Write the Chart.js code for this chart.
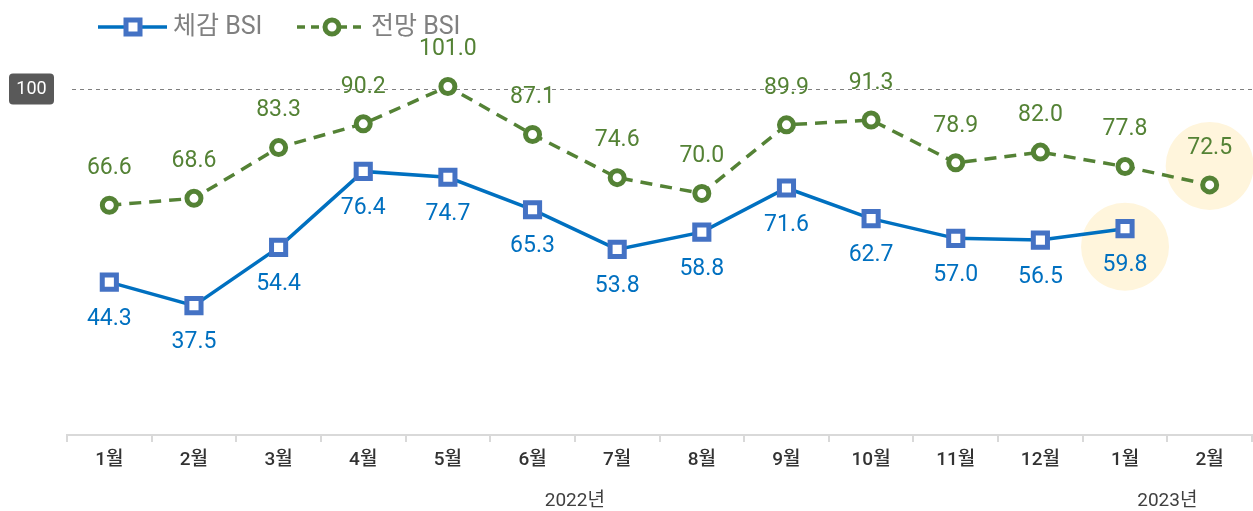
<!DOCTYPE html>
<html>
<head>
<meta charset="utf-8">
<script src="https://cdn.jsdelivr.net/npm/chart.js@4"></script>
<style>
html,body{margin:0;padding:0;background:#fff;}
canvas{display:block;}
</style>
</head>
<body>
<canvas id="c" width="1253" height="511"></canvas>
<script>
const categories = ['1월','2월','3월','4월','5월','6월','7월','8월','9월','10월','11월','12월','1월','2월'];
const actualBSI = [44.3, 37.5, 54.4, 76.4, 74.7, 65.3, 53.8, 58.8, 71.6, 62.7, 57.0, 56.5, 59.8, null];
const outlookBSI = [66.6, 68.6, 83.3, 90.2, 101.0, 87.1, 74.6, 70.0, 89.9, 91.3, 78.9, 82.0, 77.8, 72.5];
const seriesNames = ['체감 BSI', '전망 BSI'];
const yearLabels = [{text: '2022년', from: 5, to: 6}, {text: '2023년', from: 12, to: 13}];
const referenceValue = 100;
const highlights = [{dataset: 0, index: 12}, {dataset: 1, index: 13}];

const FONT = "Roboto, 'Noto Sans CJK KR', sans-serif";
const BLUE = '#0070C0', BLUE_MK = '#4472C4', GREEN = '#548235';

const highlightPlugin = {
  id: 'highlight',
  beforeDatasetsDraw(chart) {
    const ctx = chart.ctx;
    ctx.save();
    ctx.fillStyle = '#FFF5DC';
    highlights.forEach(h => {
      const el = chart.getDatasetMeta(h.dataset).data[h.index];
      const dy = h.dataset === 0 ? 18 : -19;
      ctx.beginPath();
      ctx.arc(el.x, el.y + dy, 44, 0, Math.PI * 2);
      ctx.fill();
    });
    ctx.restore();
  }
};

const refLinePlugin = {
  id: 'refLine',
  beforeDatasetsDraw(chart) {
    const ctx = chart.ctx, y = Math.round(chart.scales.y.getPixelForValue(referenceValue)) - 0.5;
    ctx.save();
    ctx.strokeStyle = '#808080';
    ctx.lineWidth = 1;
    ctx.setLineDash([4, 4]);
    ctx.beginPath();
    ctx.moveTo(72, y);
    ctx.lineTo(chart.width, y);
    ctx.stroke();
    ctx.setLineDash([]);
    ctx.fillStyle = '#595959';
    ctx.beginPath();
    ctx.roundRect(9, y - 16, 45, 31, 4);
    ctx.fill();
    ctx.fillStyle = '#fff';
    ctx.font = '18px ' + FONT;
    ctx.textAlign = 'center';
    ctx.textBaseline = 'middle';
    ctx.fillText(String(referenceValue), 31.5, y);
    ctx.restore();
  }
};

const labelPlugin = {
  id: 'dataLabels',
  afterDatasetsDraw(chart) {
    const ctx = chart.ctx;
    ctx.save();
    ctx.font = '23px ' + FONT;
    ctx.textAlign = 'center';
    ctx.textBaseline = 'middle';
    chart.data.datasets.forEach((ds, di) => {
      const meta = chart.getDatasetMeta(di);
      ctx.fillStyle = di === 0 ? BLUE : GREEN;
      ds.data.forEach((v, i) => {
        if (v == null) return;
        const el = meta.data[i];
        const dy = di === 0 ? 37 : -37;
        ctx.fillText(v.toFixed(1), el.x, el.y + dy);
      });
    });
    ctx.restore();
  }
};

const legendPlugin = {
  id: 'customLegend',
  afterDraw(chart) {
    const ctx = chart.ctx, y = 27;
    ctx.save();
    ctx.strokeStyle = BLUE; ctx.lineWidth = 3.5;
    ctx.beginPath(); ctx.moveTo(98, y); ctx.lineTo(167, y); ctx.stroke();
    ctx.fillStyle = '#fff'; ctx.strokeStyle = BLUE_MK; ctx.lineWidth = 5;
    ctx.beginPath(); ctx.rect(133 - 7, y - 7, 14, 14); ctx.fill(); ctx.stroke();
    ctx.strokeStyle = GREEN; ctx.lineWidth = 3.5; ctx.setLineDash([8, 6]);
    ctx.beginPath(); ctx.moveTo(297, y); ctx.lineTo(366, y); ctx.stroke();
    ctx.setLineDash([]);
    ctx.fillStyle = '#fff'; ctx.lineWidth = 5;
    ctx.beginPath(); ctx.arc(332, y, 7, 0, Math.PI * 2); ctx.fill(); ctx.stroke();
    ctx.fillStyle = '#808080';
    ctx.font = '25px ' + FONT;
    ctx.textBaseline = 'middle';
    ctx.textAlign = 'left';
    ctx.fillText(seriesNames[0], 173, y + 1);
    ctx.fillText(seriesNames[1], 371, y + 1);
    ctx.restore();
  }
};

const yearPlugin = {
  id: 'years',
  afterDraw(chart) {
    const ctx = chart.ctx, x = chart.scales.x;
    ctx.save();
    ctx.fillStyle = '#404040';
    ctx.font = '19px ' + FONT;
    ctx.textAlign = 'center';
    ctx.textBaseline = 'middle';
    yearLabels.forEach(l => {
      const px = (x.getPixelForValue(l.from) + x.getPixelForValue(l.to)) / 2;
      ctx.fillText(l.text, px, 501);
    });
    ctx.restore();
  }
};

new Chart(document.getElementById('c'), {
  type: 'line',
  data: {
    labels: categories,
    datasets: [
      {
        label: seriesNames[0],
        data: actualBSI,
        borderColor: BLUE,
        borderWidth: 3.5,
        pointStyle: 'rect',
        pointRadius: 10,
        pointBorderWidth: 5,
        pointBorderColor: BLUE_MK,
        pointBackgroundColor: '#fff',
        tension: 0,
        spanGaps: false
      },
      {
        label: seriesNames[1],
        data: outlookBSI,
        borderColor: GREEN,
        borderWidth: 3.5,
        borderDash: [12, 8],
        pointStyle: 'circle',
        pointRadius: 7,
        pointBorderWidth: 5,
        pointBorderColor: GREEN,
        pointBackgroundColor: '#fff',
        tension: 0
      }
    ]
  },
  options: {
    responsive: false,
    animation: false,
    layout: { autoPadding: false, padding: { top: 21, left: 67, right: 1, bottom: 0 } },
    plugins: { legend: { display: false }, tooltip: { enabled: false } },
    scales: {
      x: {
        offset: true,
        grid: { offset: true, drawOnChartArea: false, drawTicks: true, tickLength: 7, color: '#D9D9D9', lineWidth: 2 },
        border: { display: true, color: '#D9D9D9', width: 2 },
        ticks: { color: '#333', font: { family: FONT, size: 19, weight: '500' }, padding: 7, maxRotation: 0, autoSkip: false },
        afterFit(s) { s.height = 76; s.paddingLeft = 0; s.paddingRight = 0; }
      },
      y: {
        display: false,
        min: 0,
        max: 120
      }
    }
  },
  plugins: [highlightPlugin, refLinePlugin, labelPlugin, legendPlugin, yearPlugin]
});
</script>
</body>
</html>
